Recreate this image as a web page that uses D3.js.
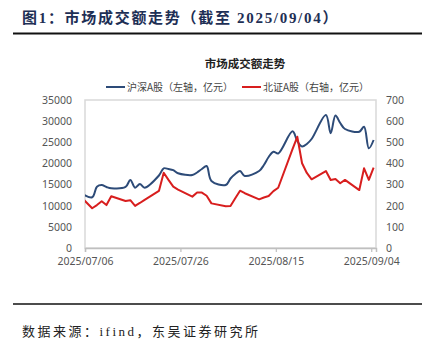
<!DOCTYPE html>
<html>
<head>
<meta charset="utf-8">
<script src="https://cdn.jsdelivr.net/npm/d3@7"></script>
<style>
  html, body { margin: 0; padding: 0; background: #fff; }
  svg { display: block; }
</style>
</head>
<body>
<svg id="chart" width="429" height="341"></svg>
<script>
// Trading days (the first one sits just left of the axis start and is clipped)
const dates = [
  "2025-07-04",
  "2025-07-07","2025-07-08","2025-07-09","2025-07-10","2025-07-11",
  "2025-07-14","2025-07-15","2025-07-16","2025-07-17","2025-07-18",
  "2025-07-21","2025-07-22","2025-07-23","2025-07-24","2025-07-25",
  "2025-07-28","2025-07-29","2025-07-30","2025-07-31","2025-08-01",
  "2025-08-04","2025-08-05","2025-08-06","2025-08-07","2025-08-08",
  "2025-08-11","2025-08-12","2025-08-13","2025-08-14","2025-08-15",
  "2025-08-18","2025-08-19","2025-08-20","2025-08-21","2025-08-22",
  "2025-08-25","2025-08-26","2025-08-27","2025-08-28","2025-08-29",
  "2025-09-01","2025-09-02","2025-09-03","2025-09-04"
];

// 沪深A股成交额（亿元，左轴）
const hsValues = [
  13500,
  12000, 14500, 14900, 14430, 14120,
  14430, 16080, 14260, 15140, 14260,
  17150, 18850, 18680, 18400, 17690,
  17260, 17860, 18680, 19390, 15850,
  14900, 16440, 17500, 18210, 17030,
  18210, 19630, 21520, 22780, 22350,
  27600, 25300, 24000, 24600, 25780,
  31450, 27130, 31340, 29560, 28140,
  27500, 28690, 23580, 25540
];

// 北证A股成交额（亿元，右轴）
const bzValues = [
  257,
  188, 203, 221, 203, 245,
  222, 226, 199, 213, 228,
  270, 356, 322, 290, 276,
  243, 262, 262, 247, 211,
  197, 199, 235, 271, 259,
  230, 239, 246, 269, 285,
  468, 526, 401, 355, 325,
  364, 322, 326, 306, 322,
  274, 377, 322, 380
];

const xTickLabels = ["2025/07/06", "2025/07/26", "2025/08/15", "2025/09/04"];
const leftTicks = [0, 5000, 10000, 15000, 20000, 25000, 30000, 35000];
const rightTicks = [0, 100, 200, 300, 400, 500, 600, 700];

const seriesNames = ["沪深A股（左轴，亿元）", "北证A股（右轴，亿元）"];
const colors = ["#2d4b78", "#d81e1e"];

const svg = d3.select("#chart");
const parse = d3.timeParse("%Y-%m-%d");
const parseTick = d3.timeParse("%Y/%m/%d");
const halfDay = 12 * 3600 * 1000;
const times = dates.map(d => new Date(parse(d).getTime() + halfDay));

const plot = { left: 85, right: 376, top: 100, bottom: 248 };

const x = d3.scaleTime()
  .domain([parseTick("2025/07/06"), parseTick("2025/09/05")])
  .range([plot.left, plot.right]);
const yL = d3.scaleLinear().domain([0, 35000]).range([plot.bottom, plot.top]);
const yR = d3.scaleLinear().domain([0, 700]).range([plot.bottom, plot.top]);

const cjk = "'Noto Sans CJK SC', 'Noto Sans', sans-serif";
const serif = "'Liberation Serif', 'Noto Sans CJK SC', serif";

// Header
svg.append("text")
  .attr("x", 22).attr("y", 23)
  .attr("font-family", serif)
  .attr("font-weight", "bold")
  .attr("font-size", 15)
  .attr("letter-spacing", 1.7)
  .attr("fill", "#1e2f55")
  .text("图1：市场成交额走势（截至 2025/09/04）");

svg.append("line")
  .attr("x1", 13).attr("x2", 422).attr("y1", 33.5).attr("y2", 33.5)
  .attr("stroke", "#111").attr("stroke-width", 2);

// Chart title
svg.append("text")
  .attr("x", 245).attr("y", 68)
  .attr("text-anchor", "middle")
  .attr("font-family", cjk)
  .attr("font-weight", "bold")
  .attr("font-size", 11.5)
  .attr("fill", "#222")
  .text("市场成交额走势");

// Legend
const legendItems = [
  { x: 106, name: seriesNames[0], color: colors[0] },
  { x: 242, name: seriesNames[1], color: colors[1] }
];
const lg = svg.append("g").selectAll("g").data(legendItems).join("g")
  .attr("transform", d => `translate(${d.x},87)`);
lg.append("line").attr("x1", 0).attr("x2", 19).attr("y1", 0).attr("y2", 0)
  .attr("stroke", d => d.color).attr("stroke-width", 2);
lg.append("text").attr("x", 21).attr("y", 3.5)
  .attr("font-family", cjk).attr("font-size", 10).attr("fill", "#444")
  .text(d => d.name);

// Plot frame
svg.append("rect")
  .attr("x", plot.left).attr("y", plot.top)
  .attr("width", plot.right - plot.left).attr("height", plot.bottom - plot.top)
  .attr("fill", "none").attr("stroke", "#d9d9d9").attr("stroke-width", 1.5);

// Axes
const axisFont = "'Noto Sans', 'DejaVu Sans', sans-serif";
const gL = svg.append("g").attr("transform", `translate(${plot.left},0)`)
  .call(d3.axisLeft(yL).tickValues(leftTicks).tickSize(0).tickPadding(13).tickFormat(d3.format("d")));
const gR = svg.append("g").attr("transform", `translate(${plot.right},0)`)
  .call(d3.axisRight(yR).tickValues(rightTicks).tickSize(0).tickPadding(10).tickFormat(d3.format("d")));
const gB = svg.append("g").attr("transform", `translate(0,${plot.bottom})`)
  .call(d3.axisBottom(x).tickValues(xTickLabels.map(parseTick)).tickSize(4).tickPadding(6)
    .tickFormat(d3.timeFormat("%Y/%m/%d")));

[gL, gR].forEach(g => g.select(".domain").remove());
[gL, gR, gB].forEach(g => g.selectAll("text")
  .attr("font-family", axisFont).attr("font-size", 10.5).attr("fill", "#555"));
gB.select(".domain").attr("stroke", "#bfbfbf").attr("stroke-width", 1.5);
gB.selectAll(".tick line").attr("stroke", "#bfbfbf").attr("stroke-width", 1.2);

// Lines
svg.append("clipPath").attr("id", "plotClip")
  .append("rect")
  .attr("x", plot.left).attr("y", plot.top - 5)
  .attr("width", plot.right - plot.left).attr("height", plot.bottom - plot.top + 10);

const lines = svg.append("g").attr("clip-path", "url(#plotClip)");

const hsLine = d3.line()
  .x((d, i) => x(times[i]))
  .y(d => yL(d))
  .curve(d3.curveCatmullRom.alpha(0.5));
const bzLine = d3.line()
  .x((d, i) => x(times[i]))
  .y(d => yR(d));

lines.append("path").datum(hsValues)
  .attr("d", hsLine).attr("fill", "none")
  .attr("stroke", colors[0]).attr("stroke-width", 2).attr("stroke-linejoin", "round");
lines.append("path").datum(bzValues)
  .attr("d", bzLine).attr("fill", "none")
  .attr("stroke", colors[1]).attr("stroke-width", 2).attr("stroke-linejoin", "round");

// Footer
svg.append("line")
  .attr("x1", 13).attr("x2", 422).attr("y1", 304).attr("y2", 304)
  .attr("stroke", "#111").attr("stroke-width", 1.5);

svg.append("text")
  .attr("x", 22).attr("y", 336)
  .attr("font-family", serif)
  .attr("font-size", 13)
  .attr("letter-spacing", 2.5)
  .attr("fill", "#222")
  .text("数据来源：ifind，东吴证券研究所");
</script>
</body>
</html>
